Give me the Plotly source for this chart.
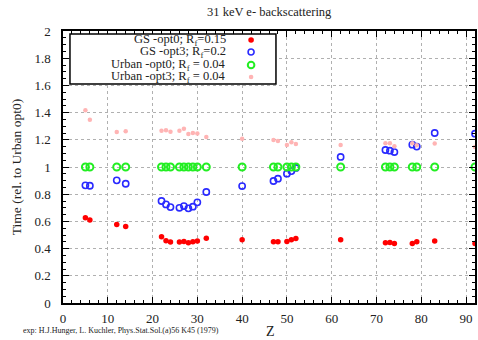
import plotly.graph_objects as go

Z = [5, 6, 12, 14, 22, 23, 24, 26, 27, 28, 29, 30, 32, 40, 47, 48, 50, 51, 52,
     62, 72, 73, 74, 78, 79, 83, 92]

gs_opt0 = [0.627, 0.61, 0.578, 0.563, 0.487, 0.457, 0.448, 0.448, 0.453, 0.443, 0.45, 0.455, 0.477,
           0.465, 0.45, 0.45, 0.453, 0.465, 0.475, 0.465, 0.443, 0.445, 0.438, 0.438, 0.45, 0.455, 0.438]
gs_opt3 = [0.865, 0.862, 0.902, 0.877, 0.75, 0.725, 0.705, 0.70, 0.713, 0.696, 0.708, 0.74, 0.816,
           0.86, 0.897, 0.914, 0.951, 0.97, 0.993, 1.074, 1.125, 1.12, 1.11, 1.164, 1.15, 1.25, 1.245]
urban_opt0 = [1.0] * len(Z)
urban_opt3 = [1.417, 1.348, 1.258, 1.263, 1.267, 1.27, 1.26, 1.267, 1.282, 1.243, 1.25, 1.247, 1.221,
              1.208, 1.199, 1.191, 1.162, 1.182, 1.169, 1.162, 1.174, 1.174, 1.152, 1.174, 1.16, 1.172, 1.147]

legend_labels = ["GS -opt0; R<sub>f</sub>=0.15", "GS -opt3; R<sub>f</sub>=0.2",
                 "Urban -opt0; R<sub>f</sub> = 0.04", "Urban -opt3; R<sub>f</sub> = 0.04"]

title_text = "31 keV e- backscattering"
x_title = "Z"
y_title = "Time (rel. to Urban opt0)"
ref_text = "exp: H.J.Hunger, L. Kuchler, Phys.Stat.Sol.(a)56 K45 (1979)"

W, H = 478, 340
L, R, T, B = 63, 1, 31, 37
PW, PH = W - L - R, H - T - B

def px(x):
    return (x - L) / PW

def py(y):
    return (H - B - y) / PH

SERIF = "Liberation Serif"
RED = "#ff0000"
BLUE = "#2a2aff"
GREEN = "#22ee22"
PINK = "#ffb4b4"
TXT = "#222222"

fig = go.Figure()
fig.add_trace(go.Scatter(x=Z, y=gs_opt0, mode="markers", name="GS opt0",
                         marker=dict(symbol="circle", size=5.5, color=RED)))
fig.add_trace(go.Scatter(x=Z, y=gs_opt3, mode="markers", name="GS opt3",
                         marker=dict(symbol="circle-open", size=6.2, color=BLUE, line=dict(width=1.6))))
fig.add_trace(go.Scatter(x=Z, y=urban_opt0, mode="markers", name="Urban opt0",
                         marker=dict(symbol="circle-open", size=7, color=GREEN, line=dict(width=2))))
fig.add_trace(go.Scatter(x=Z, y=urban_opt3, mode="markers", name="Urban opt3",
                         marker=dict(symbol="circle", size=4.5, color=PINK)))

axis_common = dict(
    showline=True, linecolor="black", linewidth=1.5, mirror="allticks",
    ticks="inside", ticklen=6, tickwidth=1, tickcolor="black",
    showgrid=True, gridcolor="#b0b0b0", griddash="dot", gridwidth=1,
    zeroline=False,
    tickfont=dict(family=SERIF, size=13, color=TXT),
)

fig.update_xaxes(range=[0, 92], dtick=10, tick0=0,
                 minor=dict(ticks="inside", ticklen=3, dtick=2, tickcolor="black", showgrid=False),
                 ticklabelstandoff=3, **axis_common)
fig.update_yaxes(range=[0, 2], dtick=0.2, tick0=0,
                 minor=dict(ticks="inside", ticklen=3, dtick=0.05, tickcolor="black", showgrid=False),
                 ticklabelstandoff=8, **axis_common)

shapes = [dict(type="rect", xref="paper", yref="paper",
               x0=px(70), x1=px(277), y0=py(84), y1=py(34),
               line=dict(color="black", width=1.5), fillcolor="white", layer="above")]
annotations = []
row_y = [40, 52, 65, 77]
legend_markers = [
    dict(fill=RED, line=RED, r=2.8, w=0),
    dict(fill="rgba(0,0,0,0)", line=BLUE, r=3, w=1.6),
    dict(fill="rgba(0,0,0,0)", line=GREEN, r=3.3, w=2),
    dict(fill=PINK, line=PINK, r=2.3, w=0),
]
for lab, yy, m in zip(legend_labels, row_y, legend_markers):
    annotations.append(dict(text=lab, xref="paper", yref="paper", x=px(229), y=py(yy),
                            xanchor="right", yanchor="middle", showarrow=False,
                            font=dict(family=SERIF, size=12.5, color=TXT)))
    shapes.append(dict(type="circle", xref="paper", yref="paper",
                       xsizemode="pixel", ysizemode="pixel",
                       xanchor=px(252), yanchor=py(yy),
                       x0=-m["r"], x1=m["r"], y0=-m["r"], y1=m["r"],
                       fillcolor=m["fill"], line=dict(color=m["line"], width=m["w"]),
                       layer="above"))

annotations += [
    dict(text=title_text, xref="paper", yref="paper", x=px(270), y=py(12),
         xanchor="center", yanchor="middle", showarrow=False,
         font=dict(family=SERIF, size=12.5, color=TXT)),
    dict(text=x_title, xref="paper", yref="paper", x=px(272), y=py(331),
         xanchor="center", yanchor="middle", showarrow=False,
         font=dict(family=SERIF, size=14, color=TXT)),
    dict(text=y_title, xref="paper", yref="paper", x=px(16), y=py(167),
         xanchor="center", yanchor="middle", showarrow=False, textangle=-90,
         font=dict(family=SERIF, size=13.5, color=TXT)),
    dict(text=ref_text, xref="paper", yref="paper", x=px(21), y=py(330),
         xanchor="left", yanchor="middle", showarrow=False,
         font=dict(family=SERIF, size=8, color=TXT)),
]

fig.update_layout(
    width=W, height=H,
    margin=dict(l=L, r=R, t=T, b=B),
    paper_bgcolor="white", plot_bgcolor="white",
    showlegend=False,
    shapes=shapes, annotations=annotations,
)

# remove the browser's default 8px page margin so the figure fills the window
fig.write_html("out.html", config={"displayModeBar": False},
               post_script="document.body.style.margin='0px';document.body.style.overflow='hidden';")
